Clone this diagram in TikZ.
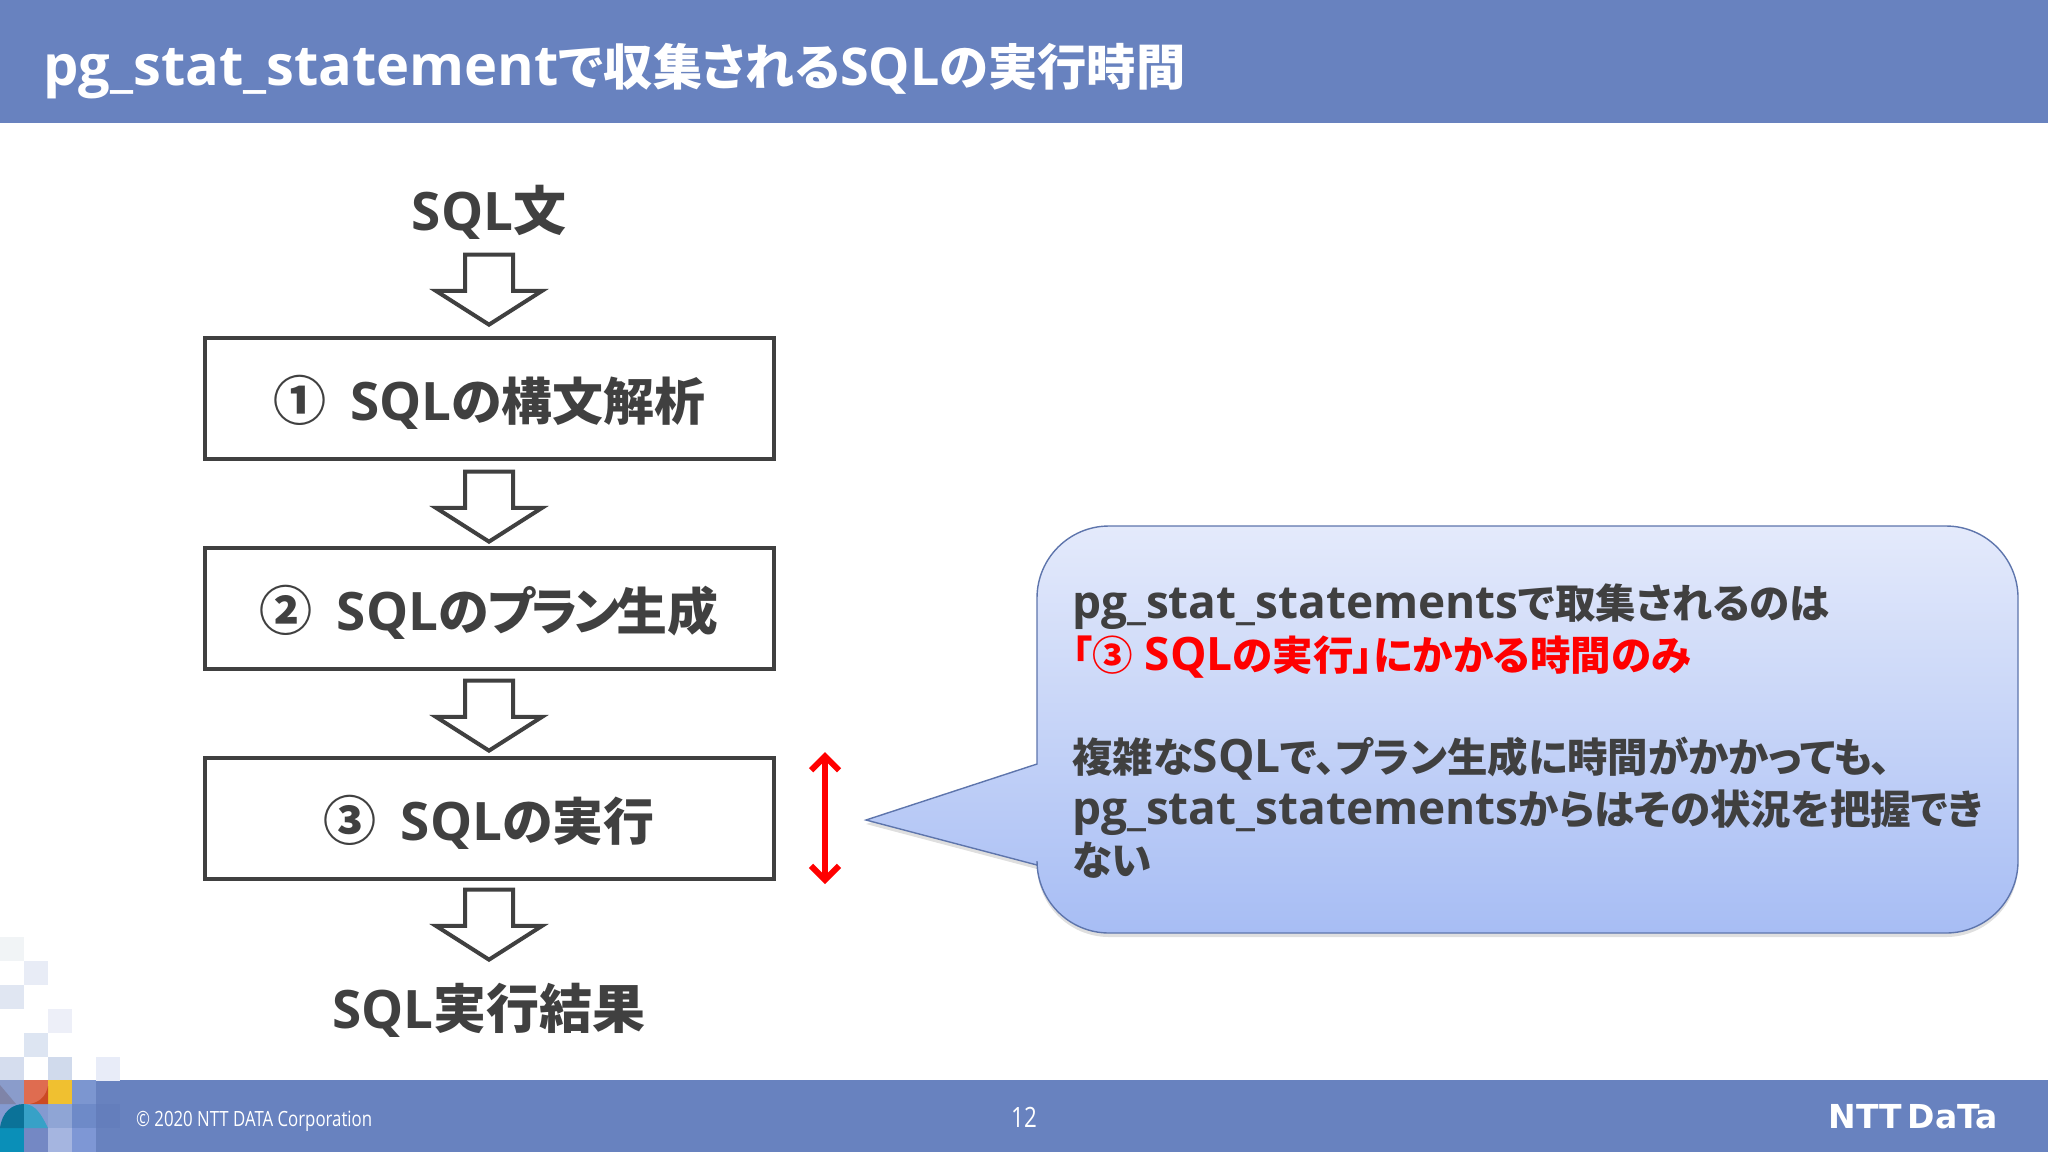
\documentclass[tikz,border=0pt]{standalone}
\usepackage{fontspec}
\setmainfont{Open Sans}
\newfontfamily\jpfont[RawFeature=+palt]{Noto Sans CJK JP}
\newfontfamily\jqfont[RawFeature=+palt,Scale=0.88]{Noto Sans CJK JP}
\newfontfamily\jrfont[RawFeature=+palt,Scale=0.96]{Noto Sans CJK JP}
\newfontfamily\footfont[FakeStretch=0.8]{Open Sans}
\newfontfamily\logofont{DejaVu Sans}
\newcommand{\jp}[1]{{\jpfont #1}}
\newcommand{\jq}[1]{{\jqfont #1}}
\newcommand{\jr}[1]{{\jrfont #1}}
\usetikzlibrary{arrows.meta,shapes.arrows,shadows}
\definecolor{bandblue}{HTML}{6882BF}
\definecolor{inkgrey}{HTML}{404040}
\definecolor{calloutup}{HTML}{E4EAFB}
\definecolor{calloutdown}{HTML}{A7BDF4}
\tikzset{
  titletext/.style={anchor=west,text=white,font=\fontsize{28}{32}\selectfont\bfseries},
  flowtext/.style={text=inkgrey,font=\fontsize{26.5}{32}\selectfont\bfseries},
  stepbox/.style={draw=inkgrey,line width=2pt,fill=white,minimum width=284.5pt,minimum height=60.5pt,outer sep=0pt,
    text height=24pt,text depth=1.2pt,text=inkgrey,font=\fontsize{26.5}{32}\selectfont\bfseries},
  downarrow/.style={draw=inkgrey,line width=2pt,fill=white,single arrow,shape border rotate=270,
    minimum height=35pt,inner sep=11pt,single arrow head extend=14.5pt,single arrow tip angle=115,
    single arrow head indent=0pt,outer sep=0pt},
  calloutbox/.style={draw=black!10!bandblue,line width=.7pt,top color=calloutup,bottom color=calloutdown,
    drop shadow={shadow xshift=0pt,shadow yshift=-2pt,opacity=.25}},
  callouttext/.style={anchor=north west,align=left,text=inkgrey,font=\fontsize{23}{25.7}\selectfont\bfseries},
  pixel/.style={minimum size=12pt,inner sep=0pt,outer sep=0pt,anchor=north west}
}
\begin{document}
\begin{tikzpicture}[x=0.5pt,y=-0.5pt]
  \useasboundingbox (0,0) rectangle (2048,1152);
  % bands
  \fill[bandblue] (0,0) rectangle (2048,123);
  \fill[bandblue] (0,1080) rectangle (2048,1152);
  \node[titletext] (title) at (36,71) {pg\_stat\_statement\jq{で収集される}{\fontsize{26}{30}\selectfont SQL}\jq{の実行時間}};
  % mosaic
  \node[pixel,fill={rgb,255:red,241;green,244;blue,246}] (m1) at (0,937) {};
  \node[pixel,fill={rgb,255:red,232;green,236;blue,246}] (m2) at (24,961) {};
  \node[pixel,fill={rgb,255:red,224;green,230;blue,242}] (m3) at (0,985) {};
  \node[pixel,fill={rgb,255:red,237;green,239;blue,248}] (m4) at (48,1009) {};
  \node[pixel,fill={rgb,255:red,221;green,229;blue,242}] (m5) at (24,1033) {};
  \node[pixel,fill={rgb,255:red,213;green,221;blue,238}] (m6) at (0,1057) {};
  \node[pixel,fill={rgb,255:red,208;green,218;blue,236}] (m7) at (48,1057) {};
  \node[pixel,fill={rgb,255:red,232;green,236;blue,248}] (m8) at (96,1057) {};
  \node[pixel,fill={rgb,255:red,138;green,156;blue,203}] (m9) at (0,1080) {};
  \node[pixel,fill={rgb,255:red,223;green,108;blue,80}] (m10) at (24,1080) {};
  \node[pixel,fill={rgb,255:red,240;green,192;blue,48}] (m11) at (48,1080) {};
  \node[pixel,fill={rgb,255:red,124;green,150;blue,208}] (m12) at (72,1080) {};
  \node[pixel,fill={rgb,255:red,132;green,154;blue,208}] (m13) at (0,1104) {};
  \node[pixel,fill={rgb,255:red,132;green,154;blue,208}] (m14) at (24,1104) {};
  \node[pixel,fill={rgb,255:red,143;green,165;blue,213}] (m15) at (48,1104) {};
  \node[pixel,fill={rgb,255:red,110;green,138;blue,200}] (m16) at (72,1104) {};
  \node[pixel,fill={rgb,255:red,100;green,126;blue,188}] (m17) at (96,1104) {};
  \node[pixel,fill={rgb,255:red,10;green,143;blue,184}] (m18) at (0,1128) {};
  \node[pixel,fill={rgb,255:red,116;green,136;blue,196}] (m19) at (24,1128) {};
  \node[pixel,fill={rgb,255:red,165;green,181;blue,224}] (m20) at (48,1128) {};
  \node[pixel,fill={rgb,255:red,126;green,151;blue,213}] (m21) at (72,1128) {};
  \fill[fill={rgb,255:red,127;green,132;blue,168}] (0,1085) -- (16,1104) -- (0,1104) -- cycle;
  \fill[fill={rgb,255:red,203;green,74;blue,36}] (48,1086) .. controls (46,1096) and (40,1102) .. (30,1104) -- (48,1104) -- cycle;
  \fill[fill={rgb,255:red,11;green,114;blue,152}] (0,1128) .. controls (2,1112) and (12,1104) .. (24,1104) -- (24,1128) -- cycle;
  \fill[fill={rgb,255:red,55;green,161;blue,199}] (24,1104) .. controls (36,1104) and (42,1116) .. (48,1128) -- (24,1128) -- cycle;
  % flow
  \node[flowtext] (sqltext) at (489,212) {SQL\jp{文}};
  \node[downarrow] (arrow0) at (489,282) {};
  \node[stepbox] (parse) at (489,398) {\jp{①}\hspace{12pt}SQL\jr{の構文解析}};
  \node[downarrow] (arrow1) at (489,499) {};
  \node[stepbox] (plan) at (489,608) {\jp{②}\hspace{12pt}SQL\jr{のプ\kern-2pt ラ\kern-2pt ン\kern-2pt 生成}};
  \node[downarrow] (arrow2) at (489,708) {};
  \node[stepbox] (exec) at (489,818) {\jp{③}\hspace{12pt}SQL\jr{の実行}};
  \node[downarrow] (arrow3) at (489,917) {};
  \node[flowtext] (result) at (489,1010) {SQL\jp{実行結果}};
  % time span
  \coordinate (spantop) at (825,752);
  \coordinate (spanbot) at (825,884);
  \draw[{Straight Barb[length=7pt,width=14pt]}-{Straight Barb[length=7pt,width=14pt]},red,line width=3pt] (spantop) -- (spanbot);
  % callout
  \draw[calloutbox] (866,820) -- (1037,764) [rounded corners=36pt] -- (1037,526) -- (2018,526) -- (2018,933) -- (1037,933) [sharp corners] -- (1037,865) -- cycle;
  \node[callouttext] (note) at (1065,577) {pg\_stat\_statements\jq{で取集されるのは}\\
    \textcolor{red}{\jq{「③} SQL\jq{の実行」にかかる時間のみ}}\\
    \mbox{}\\
    \jq{複雑な}SQL\jq{で、プラン生成に時間がかかっても、}\\
    pg\_stat\_statements\jq{からはその状況を把握でき}\\
    \jq{ない}};
  % footer
  \node[text=white,font=\footfont\fontsize{10.5}{12}\selectfont,anchor=west] (copy) at (129,1121) {© 2020 NTT DATA Corporation};
  \node[text=white,font=\footfont\fontsize{14}{16}\selectfont] (page) at (1024,1117) {12};
  \node[text=white,font=\logofont\fontsize{16.5}{20}\selectfont\bfseries,anchor=east] (logo) at (2005,1117) {NTT\kern-3pt\ DaTa};
\end{tikzpicture}
\end{document}
